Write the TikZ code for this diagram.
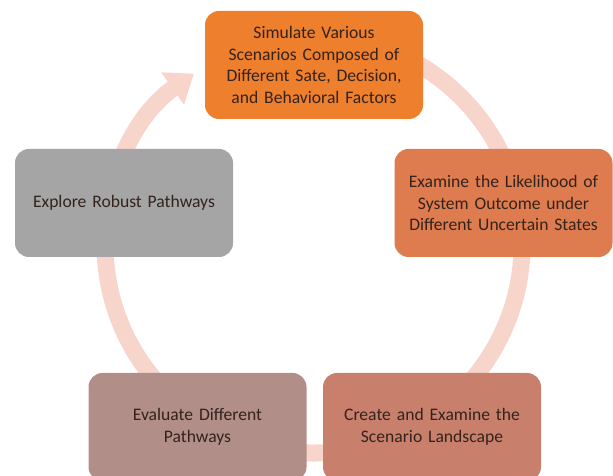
\documentclass[tikz,border=0pt]{standalone}
\usepackage{fontspec}
\setmainfont{Carlito}
\usetikzlibrary{arrows.meta}
\definecolor{ringpink}{HTML}{F7D5CB}
\definecolor{stepone}{HTML}{EE7F2D}
\definecolor{steptwo}{HTML}{DF7C4F}
\definecolor{stepthree}{HTML}{C8806C}
\definecolor{stepfour}{HTML}{B28E88}
\definecolor{stepfive}{HTML}{A5A5A5}
\definecolor{boxtext}{HTML}{33231C}
\begin{document}
\begin{tikzpicture}[x=1pt, y=1pt,
  stepbox/.style={rounded corners=14pt, minimum width=218pt, minimum height=108pt,
    text width=200pt, align=center, text=boxtext,
    font=\fontsize{17.6}{21.5}\selectfont, inner sep=0pt}]
  \useasboundingbox (0,0) rectangle (613,476);
  \clip (0,0) rectangle (613,476);

  % the cycle ring
  \draw[ringpink, line width=17pt, -{Triangle[width=38pt, length=26pt]}]
    (313.5,231.5) ++(100:208.5) arc [start angle=100, end angle=-235, radius=208.5];

  \node[stepbox, fill=stepone] (simulate) at (314,411)
    {Simulate Various\\ Scenarios Composed of\\ Different Sate, Decision,\\ and Behavioral Factors};
  \node[stepbox, fill=steptwo] (examine) at (503.5,273)
    {Examine the Likelihood of\\ System Outcome under\\ Different Uncertain States};
  \node[stepbox, fill=stepthree] (create) at (432,49)
    {Create and Examine the\\ Scenario Landscape};
  \node[stepbox, fill=stepfour] (evaluate) at (197.5,49)
    {Evaluate Different\\ Pathways};
  \node[stepbox, fill=stepfive] (explore) at (124,273)
    {Explore Robust Pathways};
\end{tikzpicture}
\end{document}
